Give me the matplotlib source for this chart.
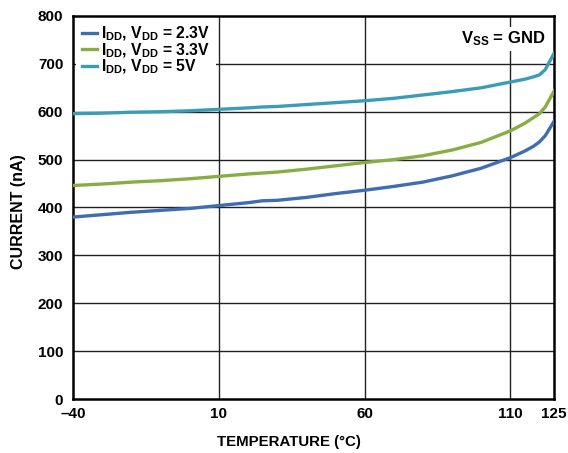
import matplotlib
matplotlib.use('Agg')
import matplotlib.pyplot as plt

plt.rcParams['font.family'] = ['Liberation Sans', 'DejaVu Sans']
plt.rcParams['font.weight'] = 'bold'
plt.rcParams['mathtext.fontset'] = 'custom'
plt.rcParams['mathtext.rm'] = 'Liberation Sans:bold'
plt.rcParams['mathtext.it'] = 'Liberation Sans:bold'
plt.rcParams['mathtext.bf'] = 'Liberation Sans:bold'

# supply current vs temperature
temp = [-40, -30, -20, -10, 0, 10, 20, 25, 30, 40, 50, 60, 70, 80, 90,
        100, 110, 115, 118, 120, 122, 125]
idd_23 = [380, 385, 390, 394, 398, 404, 410, 414, 415, 421, 429, 436, 444,
          453, 466, 482, 504, 518, 528, 537, 550, 580]
idd_33 = [446, 449, 453, 456, 460, 465, 470, 472, 474, 480, 487, 494, 500,
          508, 520, 536, 560, 576, 588, 596, 610, 643]
idd_50 = [596, 597, 599, 600, 602, 605, 608, 610, 611, 615, 619, 623, 628,
          635, 642, 650, 662, 668, 673, 677, 688, 722]

labels = [r'$\mathregular{I_{DD}}$, $\mathregular{V_{DD}}$ = 2.3V',
          r'$\mathregular{I_{DD}}$, $\mathregular{V_{DD}}$ = 3.3V',
          r'$\mathregular{I_{DD}}$, $\mathregular{V_{DD}}$ = 5V']
colors = ['#3f6db0', '#88ad45', '#3a9db8']

xticks = [-40, 10, 60, 110, 125]
xticklabels = ['\u201340', '10', '60', '110', '125']
yticks = [0, 100, 200, 300, 400, 500, 600, 700, 800]

fig = plt.figure(figsize=(5.68, 4.53), dpi=100)
ax = fig.add_axes([0.1285, 0.1192, 0.8469, 0.8455])

for y, lab, c in zip([idd_23, idd_33, idd_50], labels, colors):
    ax.plot(temp, y, color=c, lw=2.4, label=lab, zorder=3)

ax.set_xlim(-40, 125)
ax.set_ylim(0, 800)
ax.set_xticks(xticks)
ax.set_xticklabels(xticklabels)
ax.set_yticks(yticks)
ax.tick_params(length=0, labelsize=11)
ax.tick_params(axis='x', pad=6)
ax.tick_params(axis='y', pad=7)
for t in ax.get_xticklabels() + ax.get_yticklabels():
    t.set_fontweight('bold')

# grid only at interior ticks
for x in [10, 60, 110]:
    ax.axvline(x, color='#222222', lw=1.0, zorder=1)
for y in yticks[1:-1]:
    ax.axhline(y, color='#222222', lw=1.0, zorder=1)

for s in ax.spines.values():
    s.set_linewidth(1.8)

ax.set_xlabel('TEMPERATURE (°C)', fontsize=10.8, fontweight='bold')
ax.xaxis.set_label_coords(0.449, -0.095)
ax.set_ylabel('CURRENT (nA)', fontsize=11.5, fontweight='bold')
ax.yaxis.set_label_coords(-0.097, 0.49)

leg = ax.legend(loc='upper left', fontsize=11.3, handlelength=0.95,
                handletextpad=0.3, labelspacing=-0.12, borderaxespad=0.2,
                borderpad=0.35, fancybox=False)
leg.get_frame().set_facecolor('white')
leg.get_frame().set_edgecolor('none')
leg.get_frame().set_alpha(1)

ax.text(0.982, 0.965, r'$\mathregular{V_{SS}}$ = GND', transform=ax.transAxes,
        ha='right', va='top', fontsize=12, fontweight='bold', zorder=4,
        bbox=dict(facecolor='white', edgecolor='none', pad=2))

fig.savefig('out.png', dpi=100)
